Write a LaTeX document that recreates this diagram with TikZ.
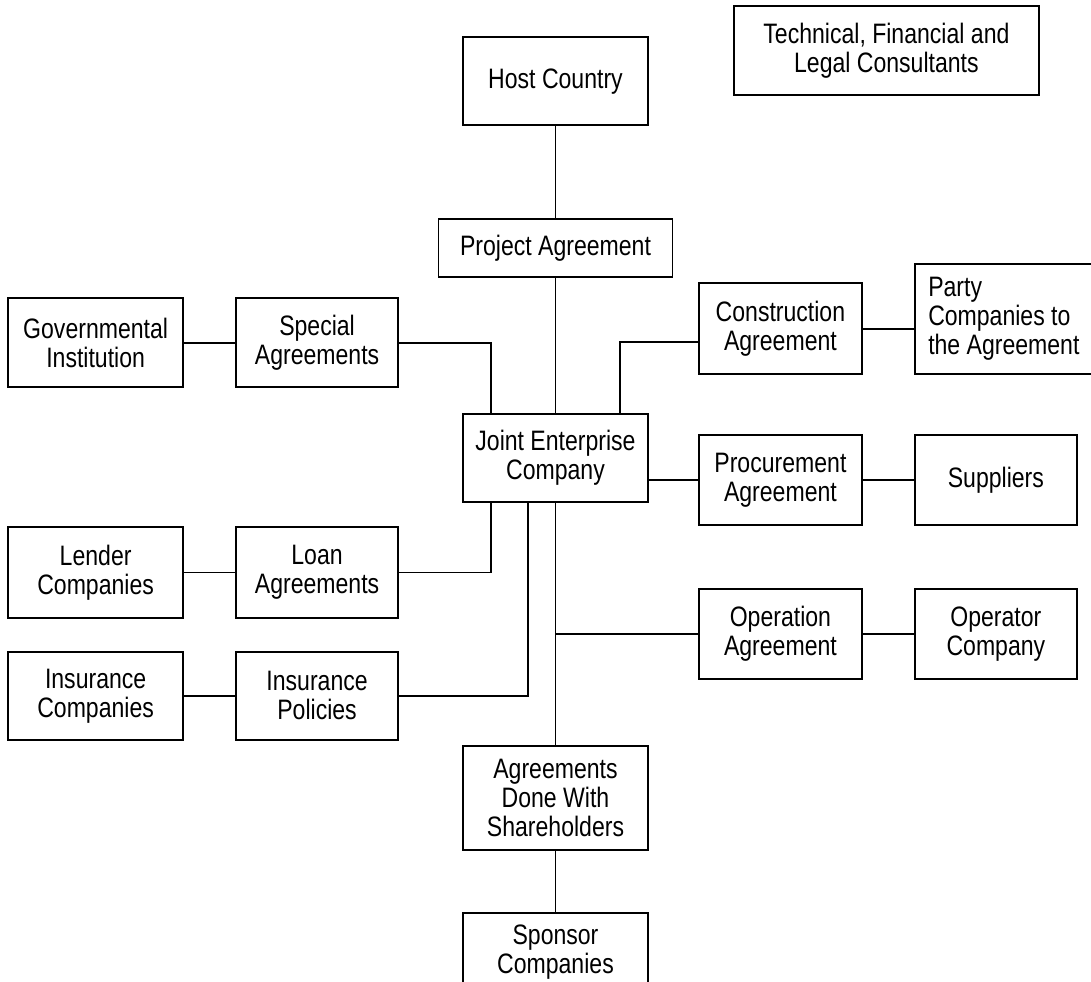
\documentclass[tikz,border=0pt]{standalone}
\usepackage{fontspec}
\setmainfont[FakeStretch=0.82]{Liberation Sans}
\usetikzlibrary{positioning,calc}

\begin{document}
\begin{tikzpicture}[line width=1.1pt,
    box/.style={draw,align=center,inner sep=2pt,font=\fontsize{16}{16.5}\selectfont}]
    \useasboundingbox (-11.11,-10.46) rectangle (10.71,9.16);
    \node (jec) [box,minimum width=3.7cm,minimum height=1.76cm] {Joint Enterprise\\Company};
    \node (proj) [box,minimum width=4.68cm,minimum height=1.16cm,above=2.7cm of jec] {Project Agreement};
    \node (host) [box,minimum width=3.7cm,minimum height=1.76cm,above=1.84cm of proj] {Host Country};
    \node (cons) [box,minimum width=6.1cm,minimum height=1.78cm,right=1.68cm of host,yshift=0.61cm] {Technical, Financial and\\Legal Consultants};
    \node (spec) [box,minimum width=3.24cm,minimum height=1.78cm,above left=0.5cm and 1.26cm of jec] {Special\\Agreements};
    \node (gov) [box,minimum width=3.5cm,minimum height=1.78cm,left=1.02cm of spec] {Governmental\\Institution};
    \node (loan) [box,minimum width=3.24cm,minimum height=1.82cm,below=2.76cm of spec] {Loan\\Agreements};
    \node (lend) [box,minimum width=3.5cm,minimum height=1.82cm,left=1.02cm of loan] {Lender\\Companies};
    \node (insp) [box,minimum width=3.24cm,minimum height=1.76cm,below=0.64cm of loan] {Insurance\\Policies};
    \node (insc) [box,minimum width=3.5cm,minimum height=1.76cm,left=1.02cm of insp] {Insurance\\Companies};
    \node (constr) [box,minimum width=3.26cm,minimum height=1.82cm,above right=0.76cm and 0.98cm of jec] {Construction\\Agreement};
    \node (party) [box,minimum width=3.56cm,minimum height=2.2cm,align=left,right=1.02cm of constr,yshift=0.19cm] {Party\\Companies to\\the Agreement};
    \node (proc) [box,minimum width=3.26cm,minimum height=1.8cm,below=1.18cm of constr] {Procurement\\Agreement};
    \node (supp) [box,minimum width=3.24cm,minimum height=1.8cm,right=1.02cm of proc] {Suppliers};
    \node (oper) [box,minimum width=3.26cm,minimum height=1.8cm,below=1.24cm of proc] {Operation\\Agreement};
    \node (opco) [box,minimum width=3.24cm,minimum height=1.8cm,right=1.02cm of oper] {Operator\\Company};
    \node (share) [box,minimum width=3.7cm,minimum height=2.08cm,below=4.84cm of jec] {Agreements\\Done With\\Shareholders};
    \node (spon) [box,minimum width=3.7cm,minimum height=1.56cm,below=1.22cm of share] {Sponsor\\Companies};
    \draw (host) -- (proj);
    \draw (proj) -- (jec);
    \draw (gov) -- (spec);
    \draw (spec.east) -| ([xshift=0.58cm]jec.north west);
    \draw ([yshift=-0.27cm]constr.west) -| ([xshift=-0.58cm]jec.north east);
    \draw (constr.east) -- (constr.east -| party.west);
    \draw (proc.west) -- (proc.west -| jec.east);
    \draw (proc) -- (supp);
    \draw (lend) -- (loan);
    \draw (loan.east) -| ([xshift=0.58cm]jec.south west);
    \draw (insc) -- (insp);
    \draw (insp.east) -| ([xshift=1.32cm]jec.south west);
    \draw (jec) -- (share);
    \draw (oper.west) -- (oper.west -| jec.south);
    \draw (oper) -- (opco);
    \draw (share) -- (spon);
  \end{tikzpicture}
\end{document}
